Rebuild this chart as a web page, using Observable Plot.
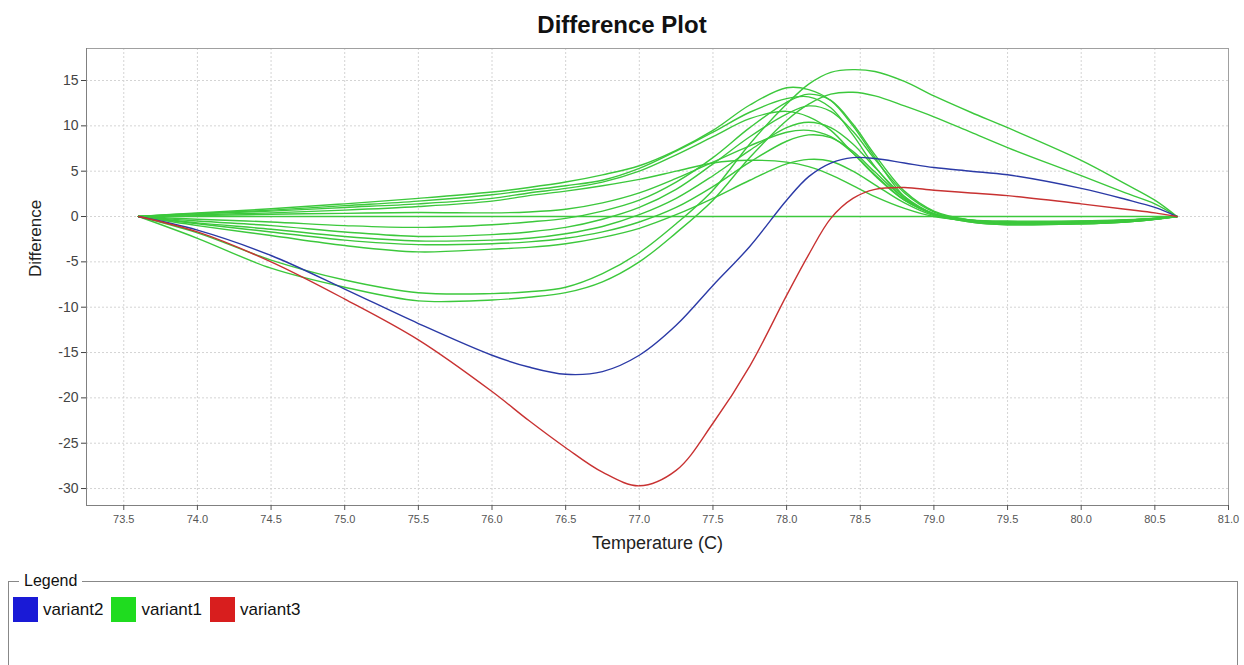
<!DOCTYPE html>
<html>
<head>
<meta charset="utf-8">
<script src="https://cdn.jsdelivr.net/npm/d3@7"></script>
<script src="https://cdn.jsdelivr.net/npm/@observablehq/plot@0.6"></script>
<style>
  body { margin: 0; background: #fff; font-family: 'Liberation Sans', Arial, sans-serif; }
  #wrap { position: relative; width: 1244px; height: 665px; overflow: hidden; background: #fff; }
  #chart { position: absolute; left: 0; top: 0; }
  #title { position: absolute; left: 0; top: 13px; width: 1244px; text-align: center; font-weight: bold; font-size: 24px; line-height: 24px; color: #111; z-index: 2; }
  #legendBox { position: absolute; left: 8px; top: 581px; width: 1228px; height: 150px; border-left: 1px solid #888; border-top: 1px solid #888; border-right: 1px solid #888; z-index: 2; }
  #legendTitle { position: absolute; left: 10px; top: -10px; padding: 0 5px; background: #fff; font-size: 16px; line-height: 18px; color: #111; }
  #legendItems { position: absolute; left: 13px; top: 597px; display: flex; align-items: center; z-index: 3; }
  .sw { width: 25px; height: 25px; margin-right: 5px; box-sizing: border-box; }
  .lab { font-size: 17px; line-height: 25px; margin-right: 8px; color: #111; }
</style>
</head>
<body>
<div id="wrap">
  <div id="chart"></div>
  <div id="title">Difference Plot</div>
  <div id="legendBox"><div id="legendTitle">Legend</div></div>
  <div id="legendItems"></div>
</div>
<script>
// ---- data ----
const temps = [73.6, 74.0, 74.5, 75.0, 75.5, 76.0, 76.25, 76.5, 76.75, 77.0, 77.25, 77.5, 77.75, 78.0, 78.15, 78.3, 78.45, 78.6, 78.8, 79.0, 79.25, 79.5, 80.0, 80.3, 80.5, 80.65];

const variant2 = [0, -1.5, -4.3, -8.0, -11.8, -15.3, -16.6, -17.4, -17.1, -15.3, -12.0, -7.6, -3.3, 1.8, 4.4, 5.9, 6.5, 6.4, 5.9, 5.4, 5.0, 4.6, 3.1, 1.9, 1.0, 0];
const variant3 = [0, -1.7, -5.0, -9.1, -13.6, -19.3, -22.5, -25.5, -28.2, -29.7, -28.0, -22.8, -16.5, -8.7, -4.2, -0.2, 2.0, 3.0, 3.2, 2.9, 2.6, 2.3, 1.4, 0.8, 0.4, 0];

const green0  = [0, 0, 0, 0, 0, 0, 0, 0, 0, 0, 0, 0, 0, 0, 0, 0, 0, 0, 0, 0, 0, 0, 0, 0, 0, 0];
const greenD1 = [0, -1.8, -4.8, -7.0, -8.4, -8.5, -8.3, -7.8, -6.3, -4.0, -0.8, 2.9, 8.0, 12.4, 14.6, 15.9, 16.2, 16.0, 14.9, 13.3, 11.5, 9.8, 6.2, 3.6, 1.8, 0];
const greenD2 = [0, -2.4, -5.7, -7.8, -9.3, -9.2, -8.9, -8.4, -7.2, -5.0, -1.8, 1.8, 6.5, 10.6, 12.4, 13.5, 13.7, 13.3, 12.2, 11.0, 9.3, 7.6, 4.5, 2.6, 1.4, 0];
const greenU1 = [0, 0.4, 0.85, 1.4, 2.0, 2.7, 3.2, 3.8, 4.6, 5.6, 7.3, 9.5, 12.3, 14.2, 14.0, 12.8, 10.0, 6.5, 2.2, 0.2, -0.5, -0.7, -0.6, -0.4, -0.2, 0];
const greenU2 = [0, 0.35, 0.7, 1.2, 1.7, 2.4, 2.9, 3.4, 4.0, 5.3, 7.2, 9.3, 11.5, 13.0, 13.2, 12.0, 9.0, 5.5, 2.0, 0.3, -0.4, -0.6, -0.6, -0.4, -0.2, 0];
const greenU3 = [0, 0.3, 0.6, 1.0, 1.4, 2.0, 2.6, 3.1, 3.8, 5.0, 6.8, 8.8, 10.8, 11.6, 11.0, 9.5, 7.0, 4.5, 1.8, 0.3, -0.4, -0.6, -0.6, -0.4, -0.2, 0];
const greenU4 = [0, 0.2, 0.4, 0.7, 1.1, 1.7, 2.3, 2.8, 3.4, 4.1, 5.0, 5.9, 6.2, 6.0, 5.5, 4.6, 3.4, 2.2, 0.9, 0.0, -0.4, -0.5, -0.5, -0.4, -0.2, 0];
const greenN  = [0, 0.1, 0.25, 0.35, 0.45, 0.4, 0.5, 0.8, 1.5, 2.6, 4.2, 6.0, 7.8, 9.3, 9.5, 8.8, 7.0, 4.6, 1.8, 0.3, -0.4, -0.6, -0.5, -0.35, -0.2, 0];
const greenL1 = [0, -0.3, -0.6, -1.0, -1.2, -0.9, -0.6, -0.2, 0.6, 1.8, 3.8, 6.5, 9.8, 12.6, 13.5, 12.8, 10.2, 6.8, 2.8, 0.6, -0.4, -0.7, -0.7, -0.5, -0.3, 0];
const greenL2 = [0, -0.5, -1.0, -1.7, -2.2, -2.0, -1.7, -1.2, -0.3, 1.0, 3.0, 5.8, 8.8, 11.3, 12.2, 11.6, 9.4, 6.3, 2.6, 0.5, -0.5, -0.8, -0.8, -0.6, -0.3, 0];
const greenL3 = [0, -0.7, -1.4, -2.2, -2.7, -2.6, -2.4, -1.9, -1.1, 0.2, 2.0, 4.5, 7.3, 9.8, 10.4, 9.8, 8.0, 5.4, 2.2, 0.3, -0.6, -0.9, -0.8, -0.6, -0.3, 0];
const greenL4 = [0, -0.8, -1.7, -2.6, -3.1, -3.0, -2.8, -2.4, -1.7, -0.6, 1.0, 3.3, 6.0, 8.3, 9.0, 8.7, 7.2, 4.9, 2.0, 0.2, -0.6, -0.9, -0.8, -0.6, -0.3, 0];
const greenL5 = [0, -1.0, -2.1, -3.2, -3.9, -3.6, -3.4, -3.0, -2.3, -1.3, 0.2, 2.0, 4.0, 5.8, 6.3, 6.1, 5.0, 3.5, 1.5, 0.1, -0.5, -0.7, -0.7, -0.5, -0.3, 0];

const xTicks = [73.5, 74.0, 74.5, 75.0, 75.5, 76.0, 76.5, 77.0, 77.5, 78.0, 78.5, 79.0, 79.5, 80.0, 80.5, 81.0];
const yTicks = [-30, -25, -20, -15, -10, -5, 0, 5, 10, 15];

const legendNames = ["variant2", "variant1", "variant3"];
const legendColors = ["#1a1ad6", "#1fdc1f", "#d81e1e"];
const lineColors = {variant1: "#3cc83c", variant2: "#2b3aa6", variant3: "#c83232"};

// ---- build table ----
const seriesList = [
  ["g0", "variant1", green0], ["gD1", "variant1", greenD1], ["gD2", "variant1", greenD2],
  ["gU1", "variant1", greenU1], ["gU2", "variant1", greenU2], ["gU3", "variant1", greenU3],
  ["gU4", "variant1", greenU4], ["gN", "variant1", greenN], ["gL1", "variant1", greenL1],
  ["gL2", "variant1", greenL2], ["gL3", "variant1", greenL3], ["gL4", "variant1", greenL4],
  ["gL5", "variant1", greenL5],
  ["b", "variant2", variant2], ["r", "variant3", variant3]
];
const rows = [];
for (const [id, variant, vals] of seriesList) {
  vals.forEach((v, i) => rows.push({id, variant, t: temps[i], v}));
}

const xDomain = [73.247, 81.0];
const yDomain = [-31.87, 18.53];

const chart = Plot.plot({
  width: 1244,
  height: 560,
  marginLeft: 86,
  marginRight: 16,
  marginTop: 48,
  marginBottom: 55,
  style: {fontFamily: "'Liberation Sans', Arial, sans-serif", background: "white"},
  x: {domain: xDomain},
  y: {domain: yDomain},
  marks: [
    Plot.gridX(xTicks, {stroke: "#d4d4d4", strokeOpacity: 1, strokeDasharray: "2,2"}),
    Plot.gridY(yTicks, {stroke: "#d4d4d4", strokeOpacity: 1, strokeDasharray: "2,2"}),
    Plot.frame({stroke: "#a0a0a0"}),
    Plot.ruleX([xDomain[0]], {stroke: "#808080"}),
    Plot.ruleY([yDomain[0]], {stroke: "#808080"}),
    Plot.axisX(xTicks, {tickSize: 5, tickPadding: 5, tickFormat: d3.format(".1f"), fontSize: 11, color: "#555", label: null}),
    Plot.axisY(yTicks, {tickSize: 5, tickPadding: 3, tickFormat: d => String(d), fontSize: 14, color: "#444", label: null}),
    Plot.line(rows.filter(d => d.variant === "variant1"), {x: "t", y: "v", z: "id", stroke: lineColors.variant1, strokeWidth: 1.4, curve: "catmull-rom"}),
    Plot.line(rows.filter(d => d.variant === "variant2"), {x: "t", y: "v", z: "id", stroke: lineColors.variant2, strokeWidth: 1.4, curve: "catmull-rom"}),
    Plot.line(rows.filter(d => d.variant === "variant3"), {x: "t", y: "v", z: "id", stroke: lineColors.variant3, strokeWidth: 1.4, curve: "catmull-rom"}),
    Plot.text(["Difference"], {frameAnchor: "left", rotate: -90, dx: -51, fontSize: 17, fill: "#222"}),
    Plot.text(["Temperature (C)"], {frameAnchor: "bottom", dy: 43, fontSize: 18, fill: "#222"})
  ]
});
document.getElementById("chart").appendChild(chart);

// ---- legend ----
const items = document.getElementById("legendItems");
legendNames.forEach((name, i) => {
  const sw = document.createElement("div");
  sw.className = "sw";
  sw.style.background = legendColors[i];
  const lab = document.createElement("div");
  lab.className = "lab";
  lab.textContent = name;
  items.appendChild(sw);
  items.appendChild(lab);
});
</script>
</body>
</html>
